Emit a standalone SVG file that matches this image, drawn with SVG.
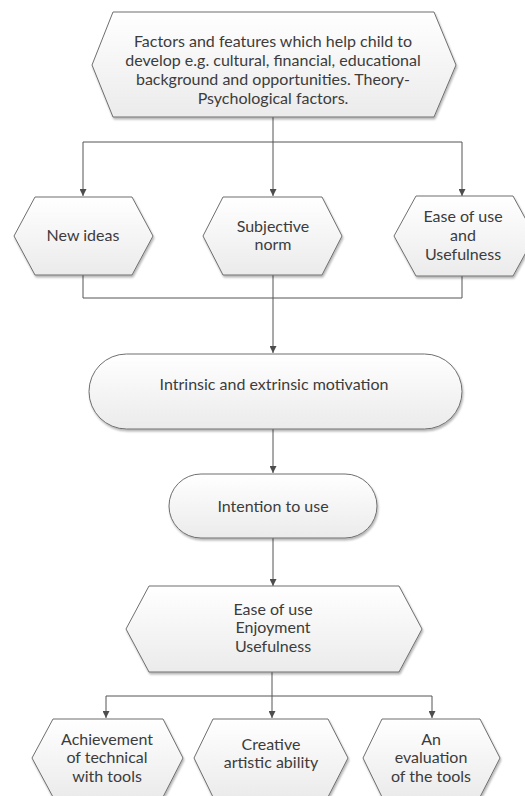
<svg xmlns="http://www.w3.org/2000/svg" width="525" height="796" viewBox="0 0 525 796">
<defs>
<linearGradient id="g" x1="0" y1="0" x2="0" y2="1">
<stop offset="0" stop-color="#ffffff"/>
<stop offset="1" stop-color="#ebebeb"/>
</linearGradient>
<marker id="arr" viewBox="0 0 10 10" refX="10" refY="5" markerWidth="7" markerHeight="7" markerUnits="userSpaceOnUse" orient="auto">
<path d="M0,0 L10,5 L0,10 Z" fill="#4d4d4d"/>
</marker>
<filter id="sh" x="-5%" y="-5%" width="110%" height="115%">
<feGaussianBlur in="SourceAlpha" stdDeviation="1"/>
<feOffset dx="1" dy="1.5" result="b"/>
<feComponentTransfer><feFuncA type="linear" slope="0.3"/></feComponentTransfer>
<feMerge><feMergeNode/><feMergeNode in="SourceGraphic"/></feMerge>
</filter>
</defs>
<style>
.n{fill:url(#g);stroke:#6f6f6f;stroke-width:1;filter:url(#sh)}
.t{font-family:Lato,"Liberation Sans",sans-serif;font-size:16px;fill:#3c3c3c;text-anchor:middle}
.c{fill:none;stroke:#555555;stroke-width:1}
</style>
<rect width="525" height="796" fill="#ffffff"/>
<g id="connectors">
<path class="c" d="M273,117 V196" marker-end="url(#arr)"/>
<path class="c" d="M273,142 H83 V196" marker-end="url(#arr)"/>
<path class="c" d="M273,142 H462 V196" marker-end="url(#arr)"/>
<path class="c" d="M83,275 V298 H462 V276"/>
<path class="c" d="M273,275 V353" marker-end="url(#arr)"/>
<path class="c" d="M273,429 V473" marker-end="url(#arr)"/>
<path class="c" d="M273,538 V586" marker-end="url(#arr)"/>
<path class="c" d="M272,672 V718" marker-end="url(#arr)"/>
<path class="c" d="M272,696 H106 V718" marker-end="url(#arr)"/>
<path class="c" d="M272,696 H432 V718" marker-end="url(#arr)"/>
</g>
<g id="factors">
<polygon class="n" points="113,12 434,12 456,65 434,117 113,117 92,65"/>
<text class="t" x="273" y="47">Factors and features which help child to</text>
<text class="t" x="273" y="66">develop e.g. cultural, financial, educational</text>
<text class="t" x="273" y="85">background and opportunities. Theory-</text>
<text class="t" x="273" y="104">Psychological factors.</text>
</g>
<g id="new-ideas">
<polygon class="n" points="35,197 132,197 153,236 132,275 35,275 14,236"/>
<text class="t" x="83" y="241">New ideas</text>
</g>
<g id="subjective-norm">
<polygon class="n" points="223,197 322,197 342,236 322,275 223,275 203,236"/>
<text class="t" x="273" y="232">Subjective</text>
<text class="t" x="273" y="250">norm</text>
</g>
<g id="ease-usefulness">
<polygon class="n" points="416,196 513,196 535,236 513,276 416,276 394,236"/>
<text class="t" x="463" y="222">Ease of use</text>
<text class="t" x="463" y="241">and</text>
<text class="t" x="463" y="260">Usefulness</text>
</g>
<g id="motivation">
<rect class="n" x="89" y="354" width="373" height="75" rx="37.5" ry="37.5"/>
<text class="t" x="274" y="390">Intrinsic and extrinsic motivation</text>
</g>
<g id="intention">
<rect class="n" x="169" y="474" width="208" height="64" rx="32" ry="32"/>
<text class="t" x="273" y="512">Intention to use</text>
</g>
<g id="ease-enjoyment">
<polygon class="n" points="149,586 399,586 422,629 399,672 149,672 126,629"/>
<text class="t" x="273" y="615">Ease of use</text>
<text class="t" x="273" y="633">Enjoyment</text>
<text class="t" x="273" y="652">Usefulness</text>
</g>
<g id="achievement">
<polygon class="n" points="53,719 163,719 183,758 163,797 53,797 32,758"/>
<text class="t" x="107" y="745">Achievement</text>
<text class="t" x="107" y="763">of technical</text>
<text class="t" x="107" y="782">with tools</text>
</g>
<g id="creative">
<polygon class="n" points="213,719 328,719 348,758 328,797 213,797 194,758"/>
<text class="t" x="271" y="750">Creative</text>
<text class="t" x="271" y="768">artistic ability</text>
</g>
<g id="evaluation">
<polygon class="n" points="382,719 480,719 500,758 480,797 382,797 363,758"/>
<text class="t" x="431" y="745">An</text>
<text class="t" x="431" y="763">evaluation</text>
<text class="t" x="431" y="782">of the tools</text>
</g>
</svg>
